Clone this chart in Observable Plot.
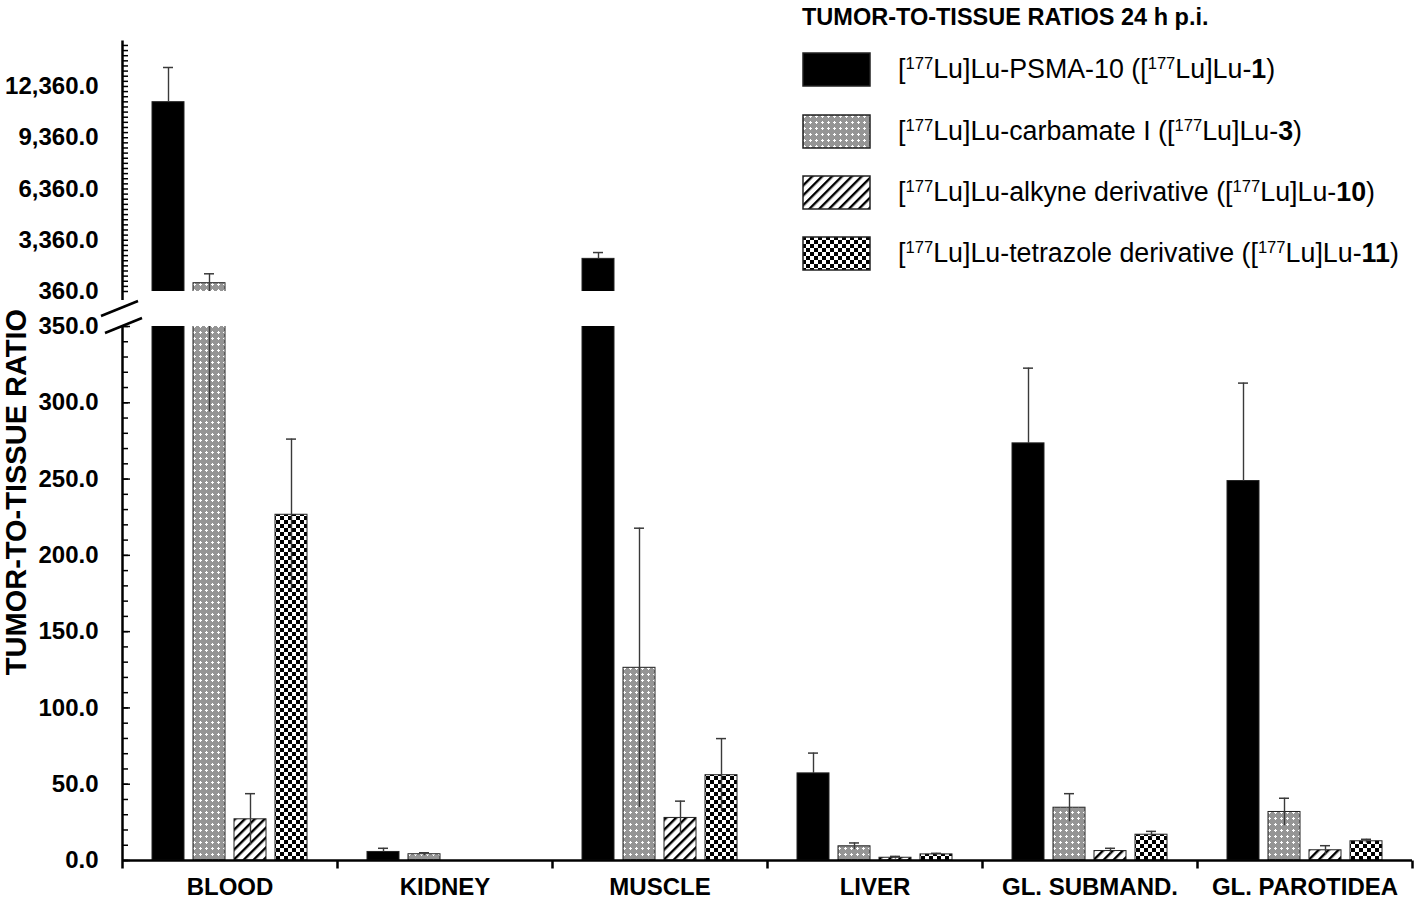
<!DOCTYPE html>
<html><head><meta charset="utf-8">
<script src="https://cdn.jsdelivr.net/npm/d3@7"></script>
<script src="https://cdn.jsdelivr.net/npm/@observablehq/plot@0.6"></script>
<style>
body{margin:0;background:#fff;}
#wrap{position:relative;width:1418px;height:900px;font-family:"Liberation Sans",Arial,sans-serif;color:#000;overflow:hidden;}
#upper,#lower,#over,#legend,#ytitle{position:absolute;}
#upper{left:0;top:0;}
#lower{left:0;top:300px;}
#over{left:0;top:0;pointer-events:none;}
#legend{left:802px;top:0;}
#legend .title{position:absolute;left:0;top:4px;white-space:nowrap;font-weight:bold;font-size:23.5px;}
#legend .row{position:absolute;left:0;white-space:nowrap;height:34px;}
#legend .row svg{position:absolute;left:0;top:0;}
#legend .row span{position:absolute;left:96px;top:50%;transform:translateY(-50%);font-size:26.8px;line-height:1;}
#legend sup{font-size:0.62em;vertical-align:0.5em;line-height:0;}
#ytitle{left:16px;top:492px;transform:translate(-50%,-50%) rotate(-90deg);white-space:nowrap;font-weight:bold;font-size:29px;}
</style></head>
<body>
<svg width="0" height="0" style="position:absolute">
  <defs>
    <pattern id="pCarb" width="6" height="6" patternUnits="userSpaceOnUse">
      <rect width="6" height="6" fill="#959595"/>
      <rect x="2" y="1" width="1" height="3" fill="#fff"/>
      <rect x="1" y="2" width="3" height="1" fill="#fff"/>
    </pattern>
    <pattern id="pAlk" width="7" height="7" patternUnits="userSpaceOnUse" patternTransform="rotate(45)">
      <rect width="7" height="7" fill="#fff"/>
      <rect width="2.4" height="7" fill="#000"/>
    </pattern>
    <pattern id="pTet" width="8" height="8" patternUnits="userSpaceOnUse">
      <rect width="8" height="8" fill="#fff"/>
      <rect width="4" height="4" fill="#000"/>
      <rect x="4" y="4" width="4" height="4" fill="#000"/>
    </pattern>
  </defs>
</svg>
<div id="wrap">
  <div id="upper"></div>
  <div id="lower"></div>
  <svg id="over" width="1418" height="900"></svg>
  <div id="ytitle">TUMOR-TO-TISSUE RATIO</div>
  <div id="legend"></div>
</div>
<script>
// ---------- data ----------
const organs = ["BLOOD", "KIDNEY", "MUSCLE", "LIVER", "GL. SUBMAND.", "GL. PAROTIDEA"];
const seriesKeys = ["Lu-1", "Lu-3", "Lu-10", "Lu-11"];
const seriesFills = ["#000", "url(#pCarb)", "url(#pAlk)", "url(#pTet)"];
const legendTitle = "TUMOR-TO-TISSUE RATIOS 24 h p.i.";
const legendLabels = [
  "[<sup>177</sup>Lu]Lu-PSMA-10 ([<sup>177</sup>Lu]Lu-<b>1</b>)",
  "[<sup>177</sup>Lu]Lu-carbamate I ([<sup>177</sup>Lu]Lu-<b>3</b>)",
  "[<sup>177</sup>Lu]Lu-alkyne derivative ([<sup>177</sup>Lu]Lu-<b>10</b>)",
  "[<sup>177</sup>Lu]Lu-tetrazole derivative ([<sup>177</sup>Lu]Lu-<b>11</b>)"
];
const lu1Mean  = [11440, 5.6, 2270, 57.1, 273.4, 248.7];
const lu1Sd    = [2030, 2.4, 370, 13.3, 49.3, 64.2];
const lu3Mean  = [845, 4.1, 126.3, 9.3, 34.6, 31.8];
const lu3Sd    = [551, 1.0, 91.5, 2.2, 9.2, 9.0];
const lu10Mean = [27.0, null, 27.9, 1.8, 6.2, 6.7];
const lu10Sd   = [16.8, null, 11.0, 0.9, 1.8, 3.0];
const lu11Mean = [226.6, null, 55.9, 4.0, 16.9, 12.6];
const lu11Sd   = [49.6, null, 24.0, 0.7, 2.2, 1.3];
const upperMajorTicks = [360, 3360, 6360, 9360, 12360];
const upperMinorTicks = d3.range(360, 14800, 300);
const lowerMajorTicks = [0, 50, 100, 150, 200, 250, 300, 350];
const lowerMinorTicks = d3.range(0, 351, 10);
const upperDomain = [360, 15050];
const lowerDomain = [0, 350];

// ---------- table ----------
const means = [lu1Mean, lu3Mean, lu10Mean, lu11Mean];
const sds = [lu1Sd, lu3Sd, lu10Sd, lu11Sd];
const rows = [];
seriesKeys.forEach((s, si) => organs.forEach((o, oi) => {
  if (means[si][oi] != null) rows.push({organ: o, series: s, mean: means[si][oi], sd: sds[si][oi]});
}));

const W = 1418, ML = 122, MR = 6;
const font = {fontFamily: "'Liberation Sans', Arial, sans-serif", background: "white", overflow: "visible"};
const vline = (len) => ({draw(ctx) { ctx.moveTo(0, 0); ctx.lineTo(0, len); }});
const fmt = d3.format(",.1f");
const isSolid = d => d.series === seriesKeys[0];

function common() {
  return {
    x: {domain: seriesKeys, paddingInner: 0.22, paddingOuter: 0.73, axis: null},
    color: {domain: seriesKeys, range: seriesFills}
  };
}
function dataMarks() {
  return [
    Plot.barY(rows, {fx: "organ", x: "series", y: "mean", fill: "series", stroke: "#222", strokeWidth: 1, clip: true}),
    // lower half of the error bar (hidden inside the solid black bars)
    Plot.ruleX(rows, {filter: d => !isSolid(d), fx: "organ", x: "series", y1: d => d.mean - d.sd, y2: "mean", stroke: "#3a3a3a", strokeWidth: 1.4, clip: true}),
    // upper half + cap
    Plot.ruleX(rows, {fx: "organ", x: "series", y1: "mean", y2: d => d.mean + d.sd, stroke: "#3a3a3a", strokeWidth: 1.4, clip: true}),
    Plot.tickY(rows, {fx: "organ", x: "series", y: d => d.mean + d.sd, stroke: "#3a3a3a", strokeWidth: 1.5, inset: 11, clip: true})
  ];
}

// ---------- upper panel ----------
const uH = 300, uMT = 40, uMB = 9;
const upper = Plot.plot({
  width: W, height: uH, marginTop: uMT, marginBottom: uMB, marginLeft: ML, marginRight: MR,
  style: font,
  ...common(),
  fx: {domain: organs, padding: 0, axis: null},
  y: {domain: upperDomain, axis: null},
  marks: [
    ...dataMarks(),
    Plot.axisY({ticks: upperMajorTicks, tickSize: 0, tickPadding: 24, tickFormat: fmt, fontSize: 24, fontWeight: "bold", label: null}),
    Plot.axisY({ticks: upperMinorTicks, tickSize: -6, tickFormat: () => "", label: null, strokeWidth: 1.5}),
    Plot.dot([0], {fx: () => organs[0], frameAnchor: "top-left", symbol: vline(uH - uMT - uMB + 10), stroke: "#000", strokeWidth: 2.5, fill: "none"})
  ]
});
document.getElementById("upper").append(upper);

// ---------- lower panel ----------
const lH = 600, lMT = 26, lMB = 40;
const lower = Plot.plot({
  width: W, height: lH, marginTop: lMT, marginBottom: lMB, marginLeft: ML, marginRight: MR,
  style: font,
  ...common(),
  fx: {domain: organs, padding: 0, axis: null},
  y: {domain: lowerDomain, axis: null},
  marks: [
    ...dataMarks(),
    Plot.ruleY([0], {stroke: "#000", strokeWidth: 2.5}),
    Plot.axisFx({anchor: "bottom", tickSize: 0, tickPadding: 17, fontSize: 24, fontWeight: "bold", label: null}),
    Plot.axisY({ticks: lowerMajorTicks, tickSize: 0, tickPadding: 24, tickFormat: fmt, fontSize: 24, fontWeight: "bold", label: null}),
    Plot.axisY({ticks: lowerMajorTicks, tickSize: -8, tickFormat: () => "", label: null, strokeWidth: 1.5}),
    Plot.axisY({ticks: lowerMinorTicks, tickSize: -6, tickFormat: () => "", label: null, strokeWidth: 1.5}),
    Plot.dot([0], {fx: () => organs[0], frameAnchor: "top-left", symbol: vline(lH - lMT - lMB + 8), stroke: "#000", strokeWidth: 2.5, fill: "none"}),
    Plot.dot([0], {frameAnchor: "bottom-right", symbol: vline(8), stroke: "#000", strokeWidth: 2.5, fill: "none"})
  ]
});
document.getElementById("lower").append(lower);

// ---------- axis break marks ----------
const over = d3.select("#over");
[[101, 316, 138, 301], [105, 333, 142, 318]].forEach(([x1, y1, x2, y2]) =>
  over.append("line").attr("x1", x1).attr("y1", y1).attr("x2", x2).attr("y2", y2)
    .attr("stroke", "#000").attr("stroke-width", 2.5));

// ---------- legend ----------
const legend = document.getElementById("legend");
const t = document.createElement("div");
t.className = "title"; t.textContent = legendTitle; legend.append(t);
const rowTops = [52, 114, 175, 236];
legendLabels.forEach((lab, i) => {
  const r = document.createElement("div");
  r.className = "row"; r.style.top = rowTops[i] + "px"; r.style.width = "610px";
  r.innerHTML = `<svg width="70" height="36"><rect x="1" y="1" width="67" height="33" fill="${seriesFills[i]}" stroke="#222" stroke-width="1.5"/></svg><span>${lab}</span>`;
  legend.append(r);
});
</script>
</body></html>
